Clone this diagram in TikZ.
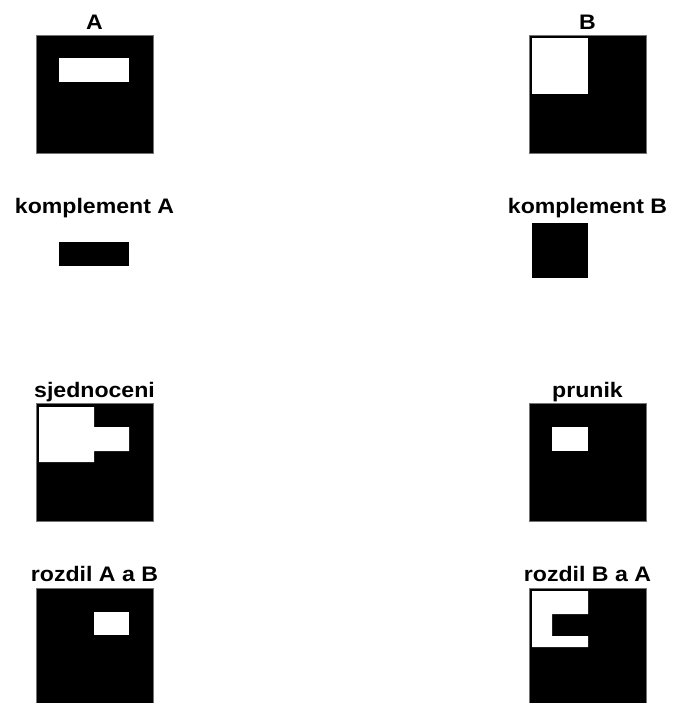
\documentclass[tikz,border=0pt]{standalone}
\usepackage{fontspec}
\setmainfont{Liberation Sans}[FakeStretch=1.1]
\begin{document}
\begin{tikzpicture}[x=1pt,y=-1pt,
  sq/.style={fill=black, draw=black!55, line width=0.6pt},
  hole/.style={fill=white},
  blk/.style={fill=black},
  lab/.style={anchor=base, font=\bfseries\fontsize{21}{24}\selectfont, inner sep=0pt}]
\useasboundingbox (0,0) rectangle (673,703);
\clip (0,0) rectangle (673,703);
% A
\node[lab] (la) at (94.5,29.3) {A};
\filldraw[sq] (36,35) rectangle (153,153);
\fill[hole] (59,58) rectangle (129,82);
% B
\node[lab] (lb) at (587.5,29.3) {B};
\filldraw[sq] (529,35) rectangle (646,153);
\fill[hole] (532,38) rectangle (588,94);
% komplement A
\node[lab] (lka) at (94.5,213.3) {komplement A};
\fill[blk] (59,242) rectangle (129,266);
% komplement B
\node[lab] (lkb) at (587.5,213.3) {komplement B};
\fill[blk] (532,223) rectangle (588,278);
% sjednoceni
\node[lab] (lsj) at (94.5,397.3) {sjednoceni};
\filldraw[sq] (36,403) rectangle (153,521);
\fill[hole] (39,407) -- (94,407) -- (94,427) -- (129,427) -- (129,451) -- (94,451) -- (94,462) -- (39,462) -- cycle;
% prunik
\node[lab] (lpr) at (587.5,397.3) {prunik};
\filldraw[sq] (529,403) rectangle (646,521);
\fill[hole] (552,427) rectangle (588,451);
% rozdil A a B
\node[lab] (lrab) at (94.5,581.7) {rozdil A a B};
\filldraw[sq] (36,588) rectangle (153,710);
\fill[hole] (94,612) rectangle (129,635);
% rozdil B a A
\node[lab] (lrba) at (587.5,581.7) {rozdil B a A};
\filldraw[sq] (529,588) rectangle (646,710);
\fill[hole] (532,591) -- (588,591) -- (588,614) -- (552,614) -- (552,636) -- (588,636) -- (588,647) -- (532,647) -- cycle;
\end{tikzpicture}
\end{document}
